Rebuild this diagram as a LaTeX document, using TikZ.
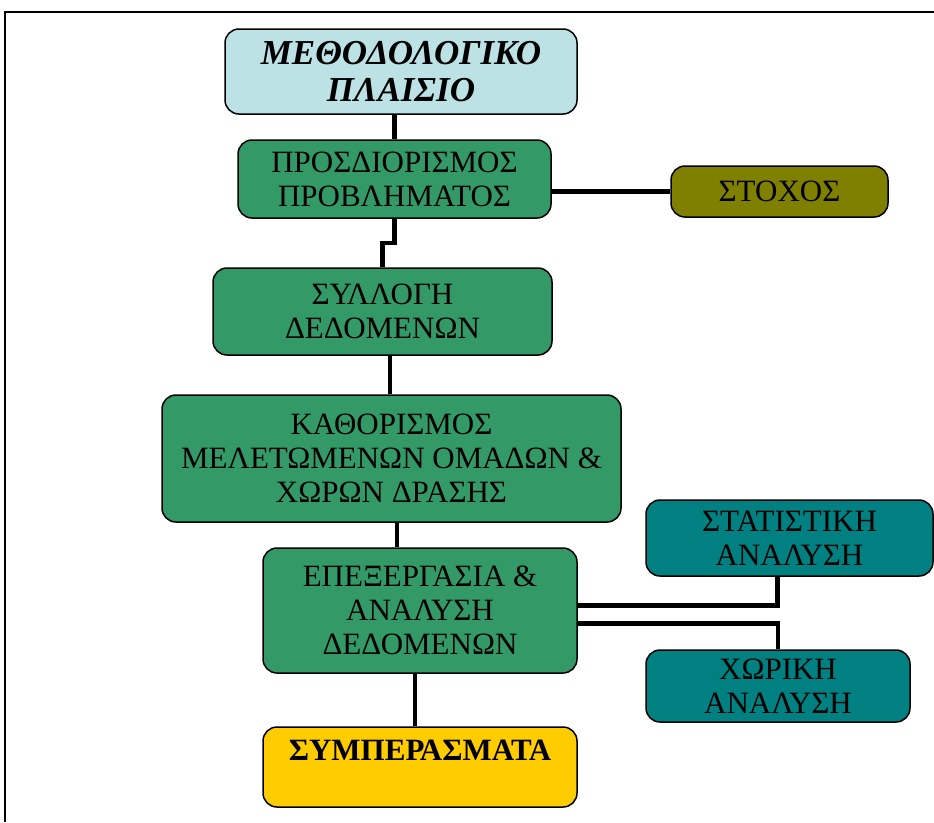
\documentclass[tikz,border=0pt]{standalone}
\usepackage{fontspec}
\setmainfont{Liberation Serif}
\usetikzlibrary{calc}
\definecolor{titleblue}{RGB}{189,226,229}
\definecolor{stepgreen}{RGB}{51,153,102}
\definecolor{goalolive}{RGB}{128,128,0}
\definecolor{anateal}{RGB}{0,128,128}
\definecolor{endyellow}{RGB}{255,204,0}

\begin{document}
\begin{tikzpicture}[x=1pt,y=-1pt,
    box/.style={draw, line width=1.5pt, rounded corners=14pt, align=center,
      font=\fontsize{31}{34}\selectfont, inner sep=0pt},
    stage/.style={box, fill=stepgreen},
    link/.style={line width=4.5pt}]

  \useasboundingbox (0,0) rectangle (934,822);
  \draw[line width=2pt] (5,822) -- (5,12) -- (934,12);

  \node[box,fill=titleblue,minimum width=352pt,minimum height=85pt,
    font=\fontsize{35}{37}\bfseries\itshape\selectfont] (title) at (401,71.5)
    {ΜΕΘΟΔΟΛΟΓΙΚΟ\\ΠΛΑΙΣΙΟ};
  \node[stage,minimum width=313pt,minimum height=78pt] (prob) at (394.5,179)
    {ΠΡΟΣΔΙΟΡΙΣΜΟΣ\\ΠΡΟΒΛΗΜΑΤΟΣ};
  \node[box,fill=goalolive,minimum width=217pt,minimum height=51pt] (goal) at (779.5,191.5)
    {ΣΤΟΧΟΣ};
  \node[stage,minimum width=339pt,minimum height=87pt] (coll) at (382.5,311.5)
    {ΣΥΛΛΟΓΗ\\ΔΕΔΟΜΕΝΩΝ};
  \node[stage,minimum width=459pt,minimum height=127pt] (groups) at (391.5,458.5)
    {ΚΑΘΟΡΙΣΜΟΣ\\ΜΕΛΕΤΩΜΕΝΩΝ ΟΜΑΔΩΝ \&\\ΧΩΡΩΝ ΔΡΑΣΗΣ};
  \node[stage,minimum width=314pt,minimum height=125pt] (proc) at (420,610.5)
    {ΕΠΕΞΕΡΓΑΣΙΑ \&\\ΑΝΑΛΥΣΗ\\ΔΕΔΟΜΕΝΩΝ};
  \node[box,fill=anateal,minimum width=287pt,minimum height=76pt] (stat) at (789.5,538)
    {ΣΤΑΤΙΣΤΙΚΗ\\ΑΝΑΛΥΣΗ};
  \node[box,fill=anateal,minimum width=264pt,minimum height=72pt] (spat) at (778,686)
    {ΧΩΡΙΚΗ\\ΑΝΑΛΥΣΗ};
  \node[box,fill=endyellow,minimum width=314pt,minimum height=80pt,
    font=\fontsize{31}{34}\bfseries\selectfont] (concl) at (420,767)
    {ΣΥΜΠΕΡΑΣΜΑΤΑ\\\mbox{}};

  \draw[link] (title.south -| prob.north) -- (prob.north);
  \draw[link] (prob.east |- goal.west) -- (goal.west);
  \draw[link] (prob.south) -- ++(0,24) -| (coll.north);
  \draw[link] (groups.north -| 390,0) -- (coll.south -| 390,0);
  \draw[link] (groups.south -| 397,0) -- (proc.north -| 397,0);
  \draw[link] ([yshift=5pt]proc.east) -| ([xshift=-12pt]stat.south);
  \draw[link] ([yshift=-13pt]proc.east) -| (spat.north);
  \draw[link] (proc.south -| 415,0) -- (concl.north -| 415,0);

\end{tikzpicture}
\end{document}
